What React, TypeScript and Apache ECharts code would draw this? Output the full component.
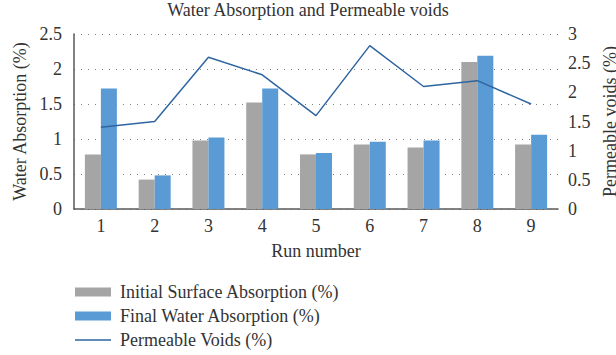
import React, { useEffect, useRef } from "react";
import * as echarts from "echarts";

const categories = ["1", "2", "3", "4", "5", "6", "7", "8", "9"];
const initialSurfaceAbsorption = [0.78, 0.42, 0.98, 1.52, 0.78, 0.92, 0.88, 2.1, 0.92];
const finalWaterAbsorption = [1.72, 0.48, 1.02, 1.72, 0.8, 0.96, 0.98, 2.19, 1.06];
const permeableVoids = [1.4, 1.5, 2.6, 2.3, 1.6, 2.8, 2.1, 2.2, 1.8];

const FONT = "'Liberation Serif', 'DejaVu Serif', serif";
const TXT = "#333333";
const FS = 18;

export default function App() {
  const ref = useRef<HTMLDivElement>(null);
  useEffect(() => {
    if (!ref.current) return;
    const chart = echarts.init(ref.current, null, { renderer: "svg" });
    chart.setOption({
      animation: false,
      backgroundColor: "#ffffff",
      textStyle: { fontFamily: FONT, color: TXT },
      title: {
        text: "Water Absorption and Permeable voids",
        left: "center",
        top: 0,
        padding: [1, 5, 1, 5],
        textStyle: { fontFamily: FONT, fontSize: FS, fontWeight: "normal", color: TXT },
      },
      grid: { left: 74, right: 58, top: 34, bottom: 146, outerBoundsMode: "none", containLabel: false },
      legend: {
        orient: "vertical",
        left: 70,
        top: 278,
        height: 80,
        itemGap: 6,
        itemWidth: 36,
        itemHeight: 9,
        textStyle: { fontFamily: FONT, fontSize: FS, color: TXT, padding: [0, 0, 0, 4] },
        data: [
          { name: "Initial Surface Absorption (%)", icon: "rect" },
          { name: "Final Water Absorption (%)", icon: "rect" },
          { name: "Permeable Voids (%)", icon: "path://M0,0 L36,0 L36,1.6 L0,1.6 Z" },
        ],
      },
      xAxis: {
        type: "category",
        data: categories,
        name: "Run number",
        nameLocation: "middle",
        nameGap: 33,
        nameTextStyle: { fontFamily: FONT, fontSize: FS, color: TXT },
        axisLine: { lineStyle: { color: "#595959", width: 1.5 } },
        axisTick: { show: false },
        axisLabel: { fontFamily: FONT, fontSize: FS, color: TXT, margin: 8 },
      },
      yAxis: [
        {
          type: "value",
          min: 0,
          max: 2.5,
          interval: 0.5,
          name: "Water Absorption (%)",
          nameLocation: "middle",
          nameGap: 44,
          nameTextStyle: { fontFamily: FONT, fontSize: FS, color: TXT },
          axisLine: { show: true, lineStyle: { color: "#595959", width: 1.5 } },
          axisTick: { show: false },
          axisLabel: { fontFamily: FONT, fontSize: FS, color: TXT, margin: 12 },
          splitLine: { show: true, lineStyle: { color: "#808080", type: [1, 6], width: 1 } },
        },
        {
          type: "value",
          min: 0,
          max: 3,
          interval: 0.5,
          name: "Permeable voids (%)",
          nameLocation: "middle",
          nameGap: 25,
          nameRotate: 90,
          nameTextStyle: { fontFamily: FONT, fontSize: FS, color: TXT, lineHeight: 18 },
          axisLine: { show: false },
          axisTick: { show: false },
          axisLabel: { fontFamily: FONT, fontSize: FS, color: TXT, margin: 10 },
          splitLine: { show: false },
        },
      ],
      series: [
        {
          name: "Initial Surface Absorption (%)",
          type: "bar",
          data: initialSurfaceAbsorption,
          barWidth: 16,
          barGap: "0%",
          itemStyle: { color: "#A5A5A5" },
        },
        {
          name: "Final Water Absorption (%)",
          type: "bar",
          data: finalWaterAbsorption,
          barWidth: 16,
          barGap: "0%",
          itemStyle: { color: "#5B9BD5" },
        },
        {
          name: "Permeable Voids (%)",
          type: "line",
          yAxisIndex: 1,
          data: permeableVoids,
          symbol: "none",
          showSymbol: false,
          lineStyle: { color: "#2F65A0", width: 1.5 },
          itemStyle: { color: "#2F65A0" },
        },
      ],
    });
    return () => chart.dispose();
  }, []);
  return (
    <div
      ref={ref}
      style={{ position: "fixed", left: 0, top: 0, width: 616, height: 355 }}
    />
  );
}
